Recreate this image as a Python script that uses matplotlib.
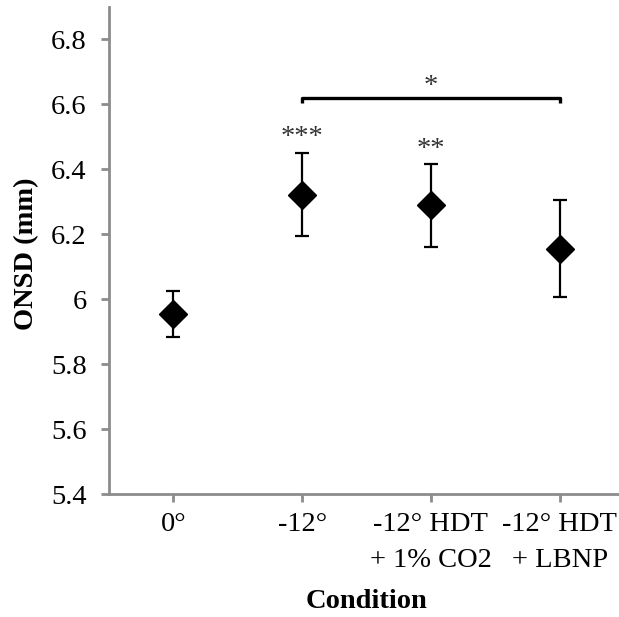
import matplotlib
matplotlib.use("Agg")
import matplotlib.pyplot as plt

plt.rcParams['font.family'] = ['Liberation Serif', 'DejaVu Serif']

categories = ["0°", "-12°", "-12° HDT\n+ 1% CO2", "-12° HDT\n+ LBNP"]
means = [5.955, 6.322, 6.290, 6.156]
err_low = [5.884, 6.195, 6.161, 6.007]
err_high = [6.025, 6.450, 6.415, 6.305]
sig_labels = ["", "***", "**", ""]
bracket_y = 6.619
bracket_label = "*"

FS = 20.5

fig = plt.figure(figsize=(6.19, 6.17), dpi=100)
ax = fig.add_axes([109/619, 1-494/617, (624-109)/619, (494-7)/617])

x = list(range(len(categories)))
yerr = [[m - l for m, l in zip(means, err_low)], [h - m for m, h in zip(means, err_high)]]
ax.errorbar(x, means, yerr=yerr, fmt='D', color='black', ms=14, ecolor='black',
            elinewidth=1.6, capsize=5, capthick=1.6, zorder=3)

for xi, lab, hi in zip(x, sig_labels, err_high):
    if lab:
        ax.text(xi, hi + 0.009, lab, ha='center', va='bottom', fontsize=FS, color='#333333')

# significance bracket between -12° and LBNP
ax.plot([1, 1, 3, 3], [bracket_y - 0.016, bracket_y, bracket_y, bracket_y - 0.016],
        color='black', lw=2.4, solid_capstyle='butt')
ax.text(2, bracket_y - 0.003, bracket_label, ha='center', va='bottom', fontsize=FS, color='#333333')

ax.set_xlim(-0.5, 3.5)
ax.set_ylim(5.4, 6.9)
ax.set_yticks([5.4, 5.6, 5.8, 6.0, 6.2, 6.4, 6.6, 6.8])
ax.set_yticklabels(["5.4", "5.6", "5.8", "6", "6.2", "6.4", "6.6", "6.8"])
ax.set_xticks(x)
ax.set_xticklabels(categories, linespacing=1.55)

for s in ['top', 'right']:
    ax.spines[s].set_visible(False)
for s in ['left', 'bottom']:
    ax.spines[s].set_color('#8c8c8c')
    ax.spines[s].set_linewidth(2)

ax.tick_params(axis='both', colors='#8c8c8c', width=2, length=6, labelsize=FS,
               labelcolor='black', direction='out')
ax.tick_params(axis='x', pad=7)
ax.tick_params(axis='y', pad=10)

ax.set_ylabel("ONSD (mm)", fontsize=FS, fontweight='bold')
ax.yaxis.set_label_coords(-(109-27)/(624-109), (494-254)/487)
ax.yaxis.label.set_va('center')
ax.set_xlabel("Condition", fontsize=FS, fontweight='bold')
ax.xaxis.set_label_coords((366-109)/(624-109), -(602-494)/487)
ax.xaxis.label.set_va('center')

fig.savefig("out.png", dpi=100)
